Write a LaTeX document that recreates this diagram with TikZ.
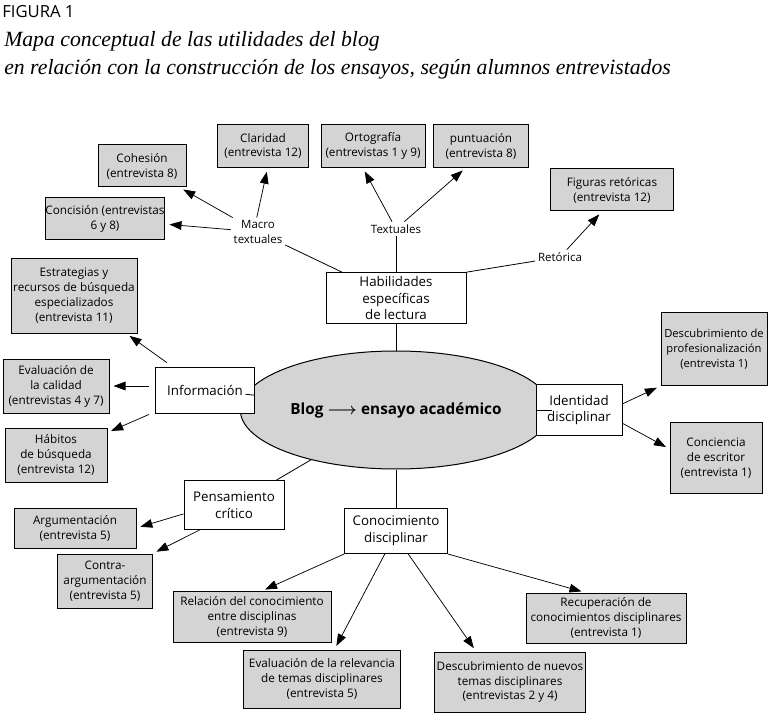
\documentclass[tikz,border=0pt]{standalone}
\usepackage{fontspec}
\setmainfont{Open Sans}
\newfontfamily\titlefont{Liberation Serif}
\usetikzlibrary{arrows.meta,shapes.geometric}
\definecolor{boxgray}{gray}{0.83}

\begin{document}
\begin{tikzpicture}[x=0.75pt,y=-0.75pt,
  gbox/.style={draw,line width=0.75pt,fill=boxgray,align=center,inner sep=1pt,font=\fontsize{8.8}{11.2}\selectfont},
  wbox/.style={draw,line width=0.75pt,fill=white,align=center,inner sep=1pt,font=\fontsize{10}{12.5}\selectfont},
  lbl/.style={align=center,inner sep=2pt,font=\fontsize{8.6}{11}\selectfont},
  arr/.style={-{Triangle[length=9pt,width=6.5pt]},line width=0.55pt,shorten >=3pt},
  link/.style={line width=0.6pt}]
\useasboundingbox (0,0) rectangle (769,717);

% title
\node[anchor=base west,inner sep=0,font=\fontsize{12.5}{14}\selectfont] (fig) at (2,18) {FIGURA 1};
\node[anchor=base west,inner sep=0,font=\titlefont\itshape\fontsize{16.3}{19}\selectfont] (tit1) at (4,47) {Mapa conceptual de las utilidades del blog};
\node[anchor=base west,inner sep=0,font=\titlefont\itshape\fontsize{16.3}{19}\selectfont] (tit2) at (4,75) {en relación con la construcción de los ensayos, según alumnos entrevistados};

% center
\node[ellipse,draw,line width=0.75pt,fill=boxgray,minimum width=165.75pt,minimum height=88.5pt,font=\bfseries\boldmath\fontsize{11.5}{14}\selectfont] (blog) at (396,410) {Blog $\longrightarrow$ ensayo académico};

% white boxes
\node[wbox,minimum width=105pt,minimum height=38pt] (hab) at (396,298) {Habilidades\\específicas\\de lectura};
\node[wbox,minimum width=74pt,minimum height=34.5pt] (info) at (205,390) {Información};
\node[wbox,minimum width=75pt,minimum height=36.75pt] (pens) at (234,505) {Pensamiento\\crítico};
\node[wbox,minimum width=77pt,minimum height=33.75pt] (conoc) at (396,531) {Conocimiento\\disciplinar};
\node[wbox,minimum width=64.5pt,minimum height=38pt] (iden) at (579,410) {Identidad\\disciplinar};

% plain labels
\node[lbl] (macro) at (258,232) {Macro\\textuales};
\node[lbl] (textu) at (396,229) {Textuales};
\node[lbl] (reto) at (560,257) {Retórica};

% gray boxes
\node[gbox,minimum width=68pt,minimum height=32pt] (clar) at (263,146) {Claridad\\(entrevista 12)};
\node[gbox,minimum width=66pt,minimum height=31.5pt] (cohe) at (142,166) {Cohesión\\(entrevista 8)};
\node[gbox,inner sep=0.3pt,minimum width=89pt,minimum height=31.5pt] (conc) at (105,219) {Concisión (entrevistas\\6 y 8)};
\node[gbox,inner sep=0.3pt,minimum width=78pt,minimum height=32pt] (orto) at (373,146) {Ortografía\\(entrevistas 1 y 9)};
\node[gbox,minimum width=71pt,minimum height=32pt] (punt) at (481,146) {puntuación\\(entrevista 8)};
\node[gbox,minimum width=92pt,minimum height=31.5pt] (figu) at (612,190) {Figuras retóricas\\(entrevista 12)};
\node[gbox,minimum width=94.5pt,minimum height=55.5pt] (estr) at (74,296) {Estrategias y\\recursos de búsqueda\\especializados\\(entrevista 11)};
\node[gbox,minimum width=79.5pt,minimum height=40.5pt] (eval) at (56,386) {Evaluación de\\la calidad\\(entrevistas 4 y 7)};
\node[gbox,minimum width=76.5pt,minimum height=40.5pt] (habi) at (56,455) {Hábitos\\de búsqueda\\(entrevista 12)};
\node[gbox,minimum width=91.5pt,minimum height=30pt] (argu) at (75,528) {Argumentación\\(entrevista 5)};
\node[gbox,minimum width=71pt,minimum height=40.5pt] (cont) at (105,581) {Contra-\\argumentación\\(entrevista 5)};
\node[gbox,minimum width=118.5pt,minimum height=38pt] (rela) at (252,617) {Relación del conocimiento\\entre disciplinas\\(entrevista 9)};
\node[gbox,minimum width=117.75pt,minimum height=43.5pt] (rele) at (322,679) {Evaluación de la relevancia\\de temas disciplinares\\(entrevista 5)};
\node[gbox,minimum width=113pt,minimum height=45pt] (nuev) at (510,682) {Descubrimiento de nuevos\\temas disciplinares\\(entrevistas 2 y 4)};
\node[gbox,minimum width=120pt,minimum height=37.5pt] (recu) at (606,618) {Recuperación de\\conocimientos disciplinares\\(entrevista 1)};
\node[gbox,inner sep=0.3pt,font=\fontsize{8.4}{11.2}\selectfont,minimum width=79.5pt,minimum height=54.75pt] (prof) at (714,349) {Descubrimiento de\\profesionalización\\(entrevista 1)};
\node[gbox,minimum width=69pt,minimum height=53pt] (conci) at (716,458) {Conciencia\\de escritor\\(entrevista 1)};

% reading skills
\draw[arr] (macro.95) -- (clar.-78);
\draw[arr] (macro) -- (cohe);
\draw[arr] (macro) -- (conc);
\draw[link] (macro) -- (hab);
\draw[arr] (textu) -- (orto.-115);
\draw[arr] (textu) -- (punt.-125);
\draw[link] (textu) -- (hab);
\draw[link] (hab.north east) -- (reto);
\draw[arr] (reto) -- (figu.-115);
\draw[link] (hab) -- (blog);

% information
\draw[link] (blog) -- (info);
\draw[arr,shorten <=5pt] (info) -- (estr);
\draw[arr,shorten <=5pt] (info.west |- eval) -- (eval);
\draw[arr,shorten <=5pt] (info) -- (habi);

% critical thinking
\draw[link] (blog) -- (pens);
\draw[arr] (pens.190) -- (argu.east);
\draw[arr] (pens.216) -- (cont.north east);

% disciplinary knowledge
\draw[link] (blog) -- (conoc);
\draw[arr] (conoc.south west) -- (rela.70);
\draw[arr] (conoc.244) -- (rele.67);
\draw[arr] (conoc.-62) -- (nuev.138);
\draw[arr] (conoc.south east) -- (recu.129);

% identity
\draw[link] (blog) -- (iden);
\draw[arr] (iden.8) -- (prof.south west);
\draw[arr] (iden.-17) -- (conci.169);
\end{tikzpicture}
\end{document}
